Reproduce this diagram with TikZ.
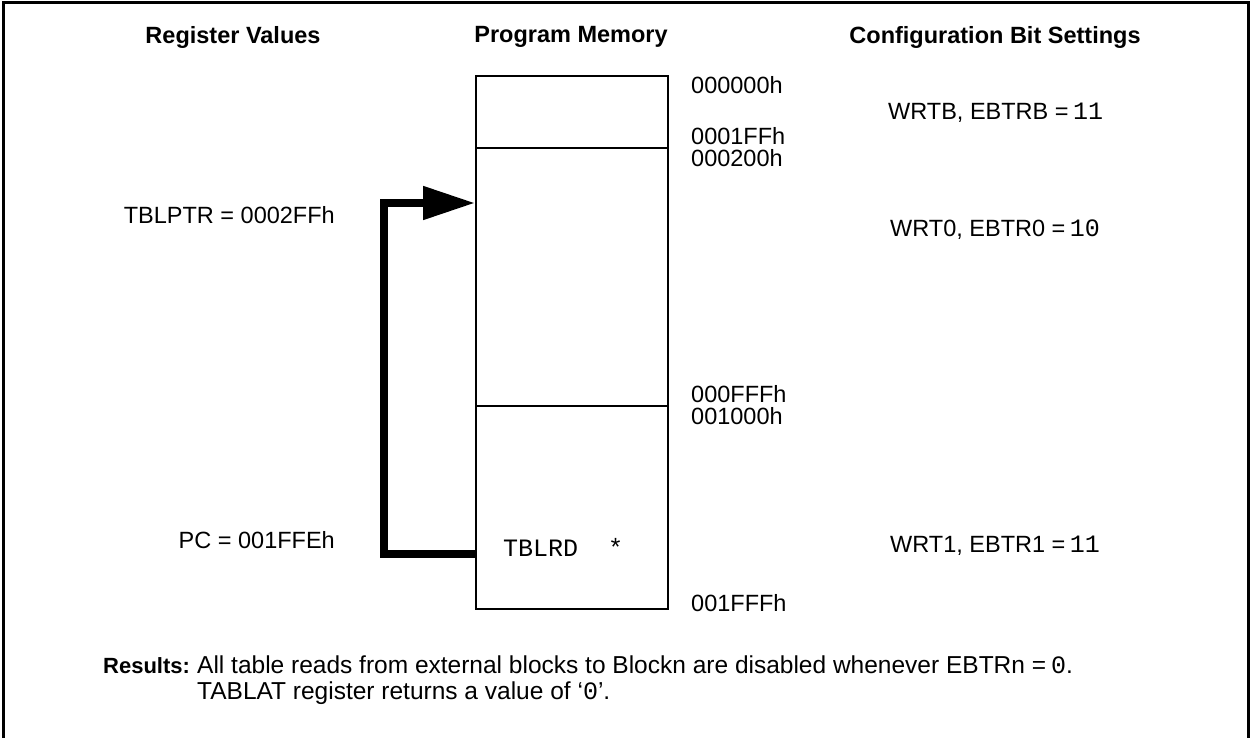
\documentclass[tikz,border=0pt]{standalone}
\usepackage{fontspec}
\setmainfont{Liberation Sans}
\setmonofont{Liberation Mono}
\usetikzlibrary{arrows.meta}
\newcommand{\mn}[1]{{\fontsize{25}{28}\selectfont\ttfamily #1}}
\begin{document}
\begin{tikzpicture}[x=1pt,y=-1pt,
  txt/.style={inner sep=0pt,font=\fontsize{23.5}{26}\selectfont},
  head/.style={txt,font=\fontsize{23.5}{26}\selectfont\bfseries},
  addr/.style={txt,anchor=west},
  blk/.style={draw,line width=1.6pt,minimum width=192pt,inner sep=0pt,anchor=north west},
  flow/.style={line width=8pt}]
\useasboundingbox (0,0) rectangle (1250,738);
\draw[line width=3pt] (3,740) -- (3,3) -- (1248,3) -- (1248,740);
% headings
\node[head] (h1) at (233,37) {Register Values};
\node[head] (h2) at (571,37) {Program Memory};
\node[head] (h3) at (995,37) {Configuration Bit Settings};
% memory blocks
\node[blk,minimum height=72pt] (bB) at (475,75) {};
\node[blk,minimum height=258pt] (b0) at (475,147) {};
\node[blk,minimum height=203pt] (b1) at (475,405) {};
\node[txt,anchor=west] (rd) at (503,547) {\mn{TBLRD\ \ *}};
% addresses
\node[addr] (a1) at (691,85) {000000h};
\node[addr] (a2) at (691,136) {0001FFh};
\node[addr] (a3) at (691,158) {000200h};
\node[addr] (a4) at (691,394) {000FFFh};
\node[addr] (a5) at (691,416) {001000h};
\node[addr] (a6) at (691,603) {001FFFh};
% config
\node[txt,anchor=west] (c1) at (888,113) {WRTB, EBTRB = \hspace{-2pt}\mn{11}};
\node[txt,anchor=west] (c2) at (890,230) {WRT0, EBTR0 = \hspace{-2pt}\mn{10}};
\node[txt,anchor=west] (c3) at (890,546) {WRT1, EBTR1 = \hspace{-2pt}\mn{11}};
% registers
\node[txt,anchor=east] (r1) at (335,215) {TBLPTR = 0002FFh};
\node[txt,anchor=east] (r2) at (335,540) {PC = 001FFEh};
% flow arrow
\coordinate (s) at (b1.west |- 0,554);
\coordinate (c) at (384,554);
\coordinate (d) at (384,203);
\coordinate (e) at (b0.west |- 0,203);
\draw[flow] (s) -- (c);
\draw[flow,line cap=rect] (c) -- (d);
\draw[flow,-{Triangle[length=52pt,width=32pt]}] (d) -- (e);
% results
\node[txt,anchor=base west,font=\fontsize{22}{26}\selectfont\bfseries] (res) at (103,673) {Results:};
\node[txt,anchor=base west,font=\fontsize{24.5}{28}\selectfont] (l1) at (197,673) {All table reads from external blocks to Blockn are disabled whenever EBTRn = \hspace{-2pt}\mn{0}.};
\node[txt,anchor=base west,font=\fontsize{24.5}{28}\selectfont] (l2) at (197,699) {TABLAT register returns a value of `\mn{0}'.};
\end{tikzpicture}
\end{document}
